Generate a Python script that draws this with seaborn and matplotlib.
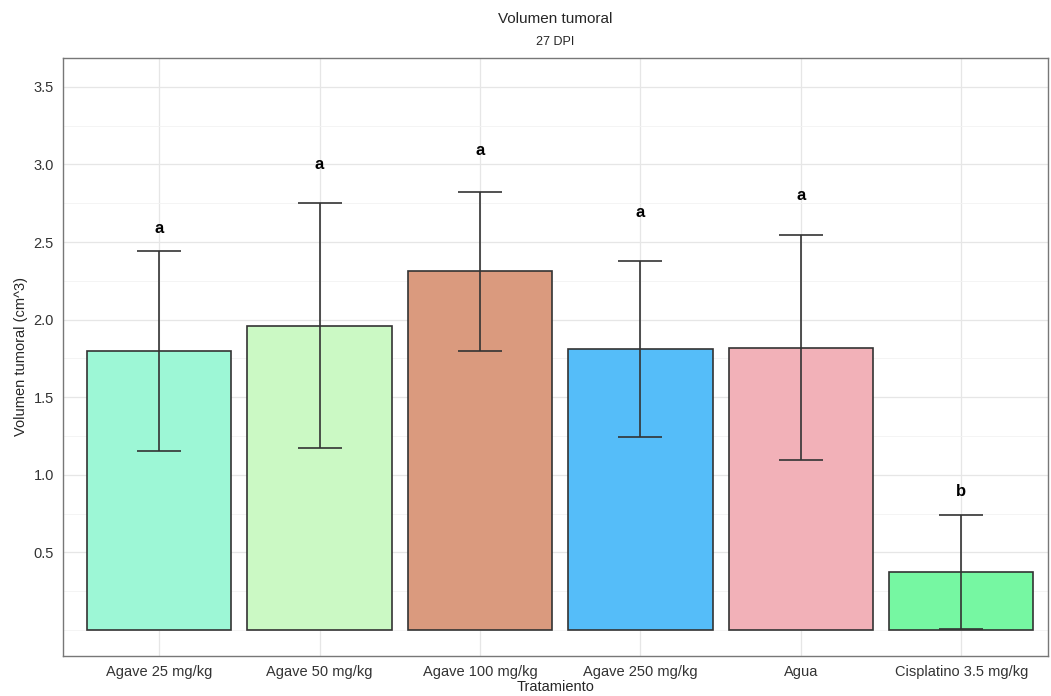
import numpy as np
import pandas as pd
import matplotlib
matplotlib.use("Agg")
import matplotlib.pyplot as plt
import seaborn as sns
from matplotlib.ticker import MultipleLocator

# Data
tratamientos = ["Agave 25 mg/kg", "Agave 50 mg/kg", "Agave 100 mg/kg",
                "Agave 250 mg/kg", "Agua", "Cisplatino 3.5 mg/kg"]
volumen = [1.80, 1.96, 2.31, 1.81, 1.82, 0.375]
sd = [0.645, 0.79, 0.51, 0.565, 0.725, 0.367]
letras = ["a", "a", "a", "a", "a", "b"]
letra_y = [2.59, 3.00, 3.09, 2.69, 2.80, 0.89]
colores = ["#9DF7D6", "#CBF9C4", "#DA9A7E", "#55BDF9", "#F2B1B8", "#76F7A2"]

df = pd.DataFrame({"Tratamiento": tratamientos, "Volumen": volumen, "sd": sd})

sns.set_style("white")
plt.rcParams['font.family'] = ['Liberation Sans', 'DejaVu Sans']

fig = plt.figure(figsize=(10.51, 6.96), dpi=100)
ax = fig.add_axes([0.0599, 0.0575, 0.9371, 0.8592])

sns.barplot(data=df, x="Tratamiento", y="Volumen", hue="Tratamiento",
            palette=colores, saturation=1, width=0.9, edgecolor="#333333",
            linewidth=1.2, legend=False, ax=ax, zorder=3)

x = np.arange(len(tratamientos))
ax.errorbar(x, df["Volumen"], yerr=df["sd"], fmt="none", ecolor="#333333",
            elinewidth=1.2, capsize=16, capthick=1.2, zorder=4)

for xi, ly, l in zip(x, letra_y, letras):
    ax.text(xi, ly, l, ha="center", va="center",
            fontsize=12, fontweight="bold", color="black", zorder=5)

ax.set_xlim(-0.6, 5.54)
ax.set_ylim(-0.168, 3.686)
ax.set_yticks([0.5, 1.0, 1.5, 2.0, 2.5, 3.0, 3.5])
ax.yaxis.set_minor_locator(MultipleLocator(0.25))
ax.grid(True, which="major", color="#e6e6e6", linewidth=0.9, zorder=0)
ax.grid(True, which="minor", axis="y", color="#f2f2f2", linewidth=0.6, zorder=0)
ax.set_axisbelow(True)
ax.tick_params(axis="y", which="minor", length=0)
ax.tick_params(axis="both", which="major", length=3, color="#333333",
               labelsize=10.5, labelcolor="#333333", direction="out")

for sp in ax.spines.values():
    sp.set_color("#777777")
    sp.set_linewidth(1.0)

ax.set_xlabel("Tratamiento", fontsize=10.5, labelpad=1)
ax.set_ylabel("Volumen tumoral (cm^3)", fontsize=10.5, labelpad=4)

fig.text(0.528, 0.973, "Volumen tumoral", ha="center", va="center", fontsize=11)
fig.text(0.528, 0.940, "27 DPI", ha="center", va="center", fontsize=9)

fig.savefig("out.png", dpi=100)
